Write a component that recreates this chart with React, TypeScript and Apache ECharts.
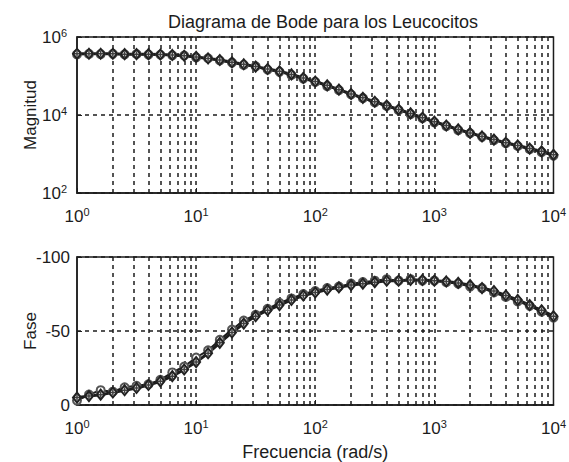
import React, { useEffect, useRef } from "react";
import * as echarts from "echarts";

const freqs = [1, 1.26, 1.58, 2, 2.51, 3.16, 3.98, 5.01, 6.31, 7.94, 10, 12.6, 15.8, 20, 25.1, 31.6, 39.8, 50.1, 63.1, 79.4, 100, 126, 158, 200, 251, 316, 398, 501, 631, 794, 1000, 1259, 1585, 1995, 2512, 3162, 3981, 5012, 6310, 7943, 10000];

const magDiamond = [372000, 372000, 372000, 372000, 363000, 363000, 363000, 355000, 347000, 331000, 309000, 282000, 257000, 224000, 200000, 174000, 151000, 132000, 110000, 89100, 72400, 57500, 44700, 34700, 27500, 21900, 17400, 13800, 11000, 8510, 6760, 5370, 4270, 3470, 2820, 2340, 1950, 1660, 1380, 1170, 950];
const magCircle = [360000, 368000, 365000, 370000, 358000, 366000, 352000, 350000, 338000, 335000, 300000, 285000, 250000, 220000, 192000, 176000, 145000, 128000, 106000, 86000, 70500, 55000, 43500, 33500, 27000, 21000, 17000, 13300, 10500, 8300, 6500, 5200, 4100, 3400, 2750, 2250, 1900, 1600, 1330, 1120, 900];

const phaseDiamond = [-5, -6, -7, -8.5, -10, -11.5, -13.5, -16, -19.5, -24, -29, -35, -42, -49, -55, -60, -64, -67.5, -71, -74, -76, -78, -79.5, -81, -82, -83, -84, -84, -84.5, -84.5, -84, -83.5, -82.5, -81, -79, -77, -74, -71, -67.5, -64, -60];
const phaseCircle = [-3, -7, -10, -9, -12, -13, -14, -17, -22, -26, -32, -37, -44, -51, -57, -61, -65, -69, -72, -75, -77, -79, -80, -82, -83, -84, -85, -84, -85, -84, -84, -83, -82, -80, -79, -76, -73, -70, -67, -63, -59];

const decades = [1, 10, 100, 1000];
const multipliers = [2, 3, 4, 5, 6, 7, 8, 9];

const FONT = "Liberation Sans, Arial, sans-serif";
const INK = "#1c1c1c";

const supFormatter = (v: number) => `{b|10}{s|${Math.round(Math.log10(v))}}`;
const richLabel = {
  b: { fontSize: 17, fontFamily: FONT, color: INK, lineHeight: 20 },
  s: { fontSize: 11, fontFamily: FONT, color: INK, verticalAlign: "top", lineHeight: 12, padding: [0, 0, 8, 0] },
};

const gridLineData = () => {
  const arr: any[] = [];
  decades.forEach((d) => {
    if (d > 1) arr.push({ xAxis: d });
    multipliers.forEach((m) => arr.push({ xAxis: d * m }));
  });
  return arr;
};

export default function App() {
  const ref = useRef<HTMLDivElement>(null);
  useEffect(() => {
    if (!ref.current) return;
    const chart = echarts.init(ref.current, null, { renderer: "svg" });
    const pairs = (ys: number[]) => freqs.map((f, i) => [f, ys[i]]);
    const markLine = {
      silent: true,
      symbol: "none",
      label: { show: false },
      lineStyle: { color: INK, type: [4, 4], width: 1.5 },
      data: gridLineData(),
      z: 1,
    };
    const xAxisBase = (gridIndex: number, withName: boolean) => ({
      type: "log",
      logBase: 10,
      gridIndex,
      min: 1,
      max: 10000,
      axisLine: { show: true, lineStyle: { color: INK, width: 1.5 } },
      axisTick: { show: true, inside: true, length: 5, lineStyle: { color: INK } },
      splitLine: { show: false },
      axisLabel: { formatter: supFormatter, rich: richLabel, margin: 13 },
      name: withName ? "Frecuencia (rad/s)" : "",
      nameLocation: "middle",
      nameGap: 38,
      nameMoveOverlap: false,
      nameTextStyle: { fontSize: 18, fontFamily: FONT, color: INK },
    });
    const lineSeries = (name: string, xi: number, data: any[], symbol: string, size: number | number[], withMark: boolean, lineW: number, mColor: string) => ({
      name,
      type: "line",
      xAxisIndex: xi,
      yAxisIndex: xi,
      data,
      symbol,
      symbolSize: size,
      showAllSymbol: true,
      lineStyle: { color: INK, width: lineW },
      itemStyle: { color: mColor, borderWidth: 1.5 },
      z: 3,
      ...(withMark ? { markLine } : {}),
    });
    const plusSeries = (xi: number, data: any[]) => ({
      name: "plus" + xi,
      type: "scatter",
      xAxisIndex: xi,
      yAxisIndex: xi,
      data,
      symbol: "path://M0,5 L10,5 M5,0 L5,10",
      symbolSize: 6,
      itemStyle: { color: "none", borderColor: "#111", borderWidth: 1.5 },
      z: 4,
    });
    chart.setOption({
      animation: false,
      backgroundColor: "#fff",
      title: {
        text: "Diagrama de Bode para los Leucocitos",
        left: 318,
        textAlign: "center",
        top: 8,
        textStyle: { fontSize: 18, fontWeight: "normal", fontFamily: FONT, color: INK },
      },
      grid: [
        { left: 77, right: 10, top: 37, height: 156, show: true, borderColor: INK, borderWidth: 1.5, backgroundColor: "#fff" },
        { left: 77, right: 10, top: 257, height: 150, show: true, borderColor: INK, borderWidth: 1.5, backgroundColor: "#fff" },
      ],
      xAxis: [xAxisBase(0, false), xAxisBase(1, true)],
      yAxis: [
        {
          type: "log",
          logBase: 100,
          gridIndex: 0,
          min: 100,
          max: 1000000,
          axisLine: { show: true, lineStyle: { color: INK, width: 1.5 } },
          axisTick: { show: true, inside: true, length: 5, lineStyle: { color: INK } },
          splitLine: { show: true, lineStyle: { color: INK, type: [4, 4], width: 1.5 } },
          axisLabel: { formatter: supFormatter, rich: richLabel, margin: 10 },
          name: "Magnitud",
          nameLocation: "middle",
          nameRotate: 90,
          nameGap: 38,
          nameMoveOverlap: false,
          nameTextStyle: { fontSize: 17, fontFamily: FONT, color: INK },
        },
        {
          type: "value",
          gridIndex: 1,
          min: -100,
          max: 0,
          interval: 50,
          inverse: true,
          axisLine: { show: true, lineStyle: { color: INK, width: 1.5 } },
          axisTick: { show: true, inside: true, length: 5, lineStyle: { color: INK } },
          splitLine: { show: true, lineStyle: { color: INK, type: [4, 4], width: 1.5 } },
          axisLabel: { fontSize: 17, fontFamily: FONT, color: INK, margin: 7 },
          name: "Fase",
          nameLocation: "middle",
          nameRotate: 90,
          nameGap: 38,
          nameMoveOverlap: false,
          nameTextStyle: { fontSize: 17, fontFamily: FONT, color: INK },
        },
      ],
      series: [
        lineSeries("mag-o", 0, pairs(magCircle), "emptyCircle", 8, false, 2, "#555"),
        lineSeries("mag-d", 0, pairs(magDiamond), "emptyDiamond", [8, 10], true, 3, "#222"),
        plusSeries(0, pairs(magDiamond)),
        lineSeries("fase-o", 1, pairs(phaseCircle), "emptyCircle", 8, false, 2, "#555"),
        lineSeries("fase-d", 1, pairs(phaseDiamond), "emptyDiamond", [8, 10], true, 3, "#222"),
        plusSeries(1, pairs(phaseDiamond)),
      ],
    });
    return () => chart.dispose();
  }, []);
  return <div ref={ref} style={{ position: "fixed", left: 0, top: 0, width: 569, height: 462 }} />;
}
